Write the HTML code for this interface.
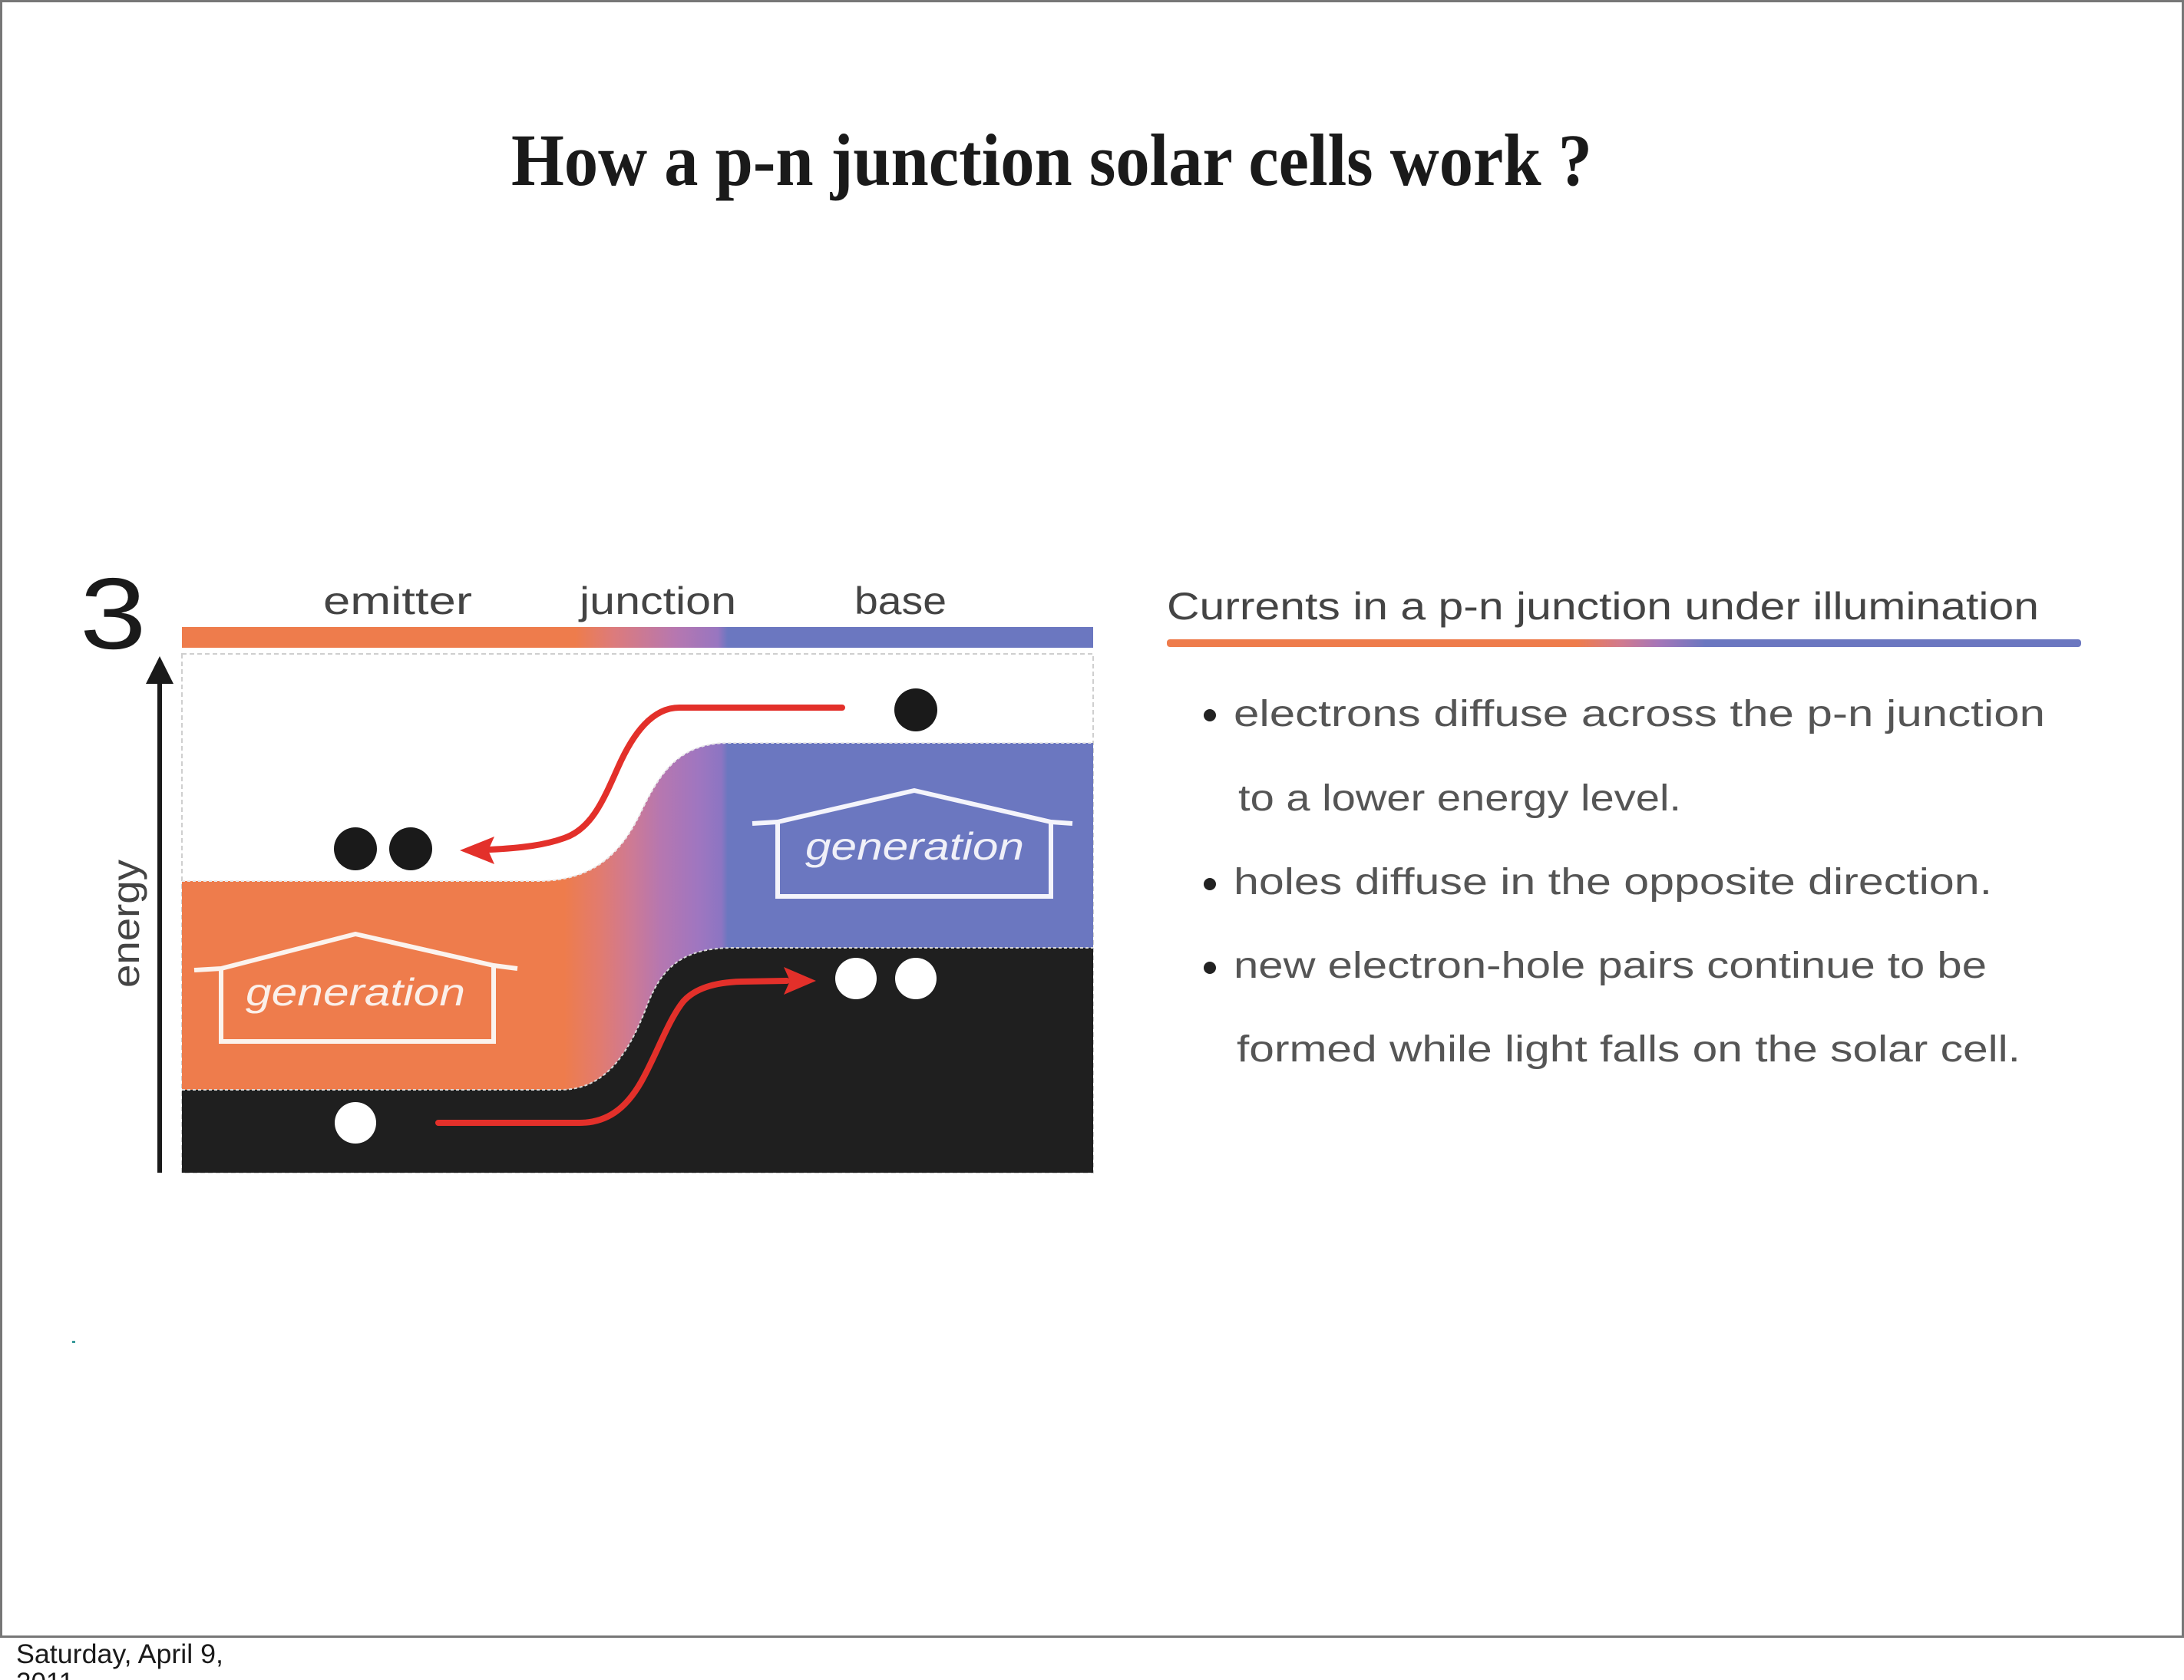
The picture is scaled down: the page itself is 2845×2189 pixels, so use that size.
<!DOCTYPE html>
<html>
<head>
<meta charset="utf-8">
<style>
html,body{margin:0;padding:0;background:#fff;}
body{width:2845px;height:2189px;overflow:hidden;}
svg{display:block;}
text{font-family:"Liberation Sans","DejaVu Sans",sans-serif;}
</style>
</head>
<body>
<svg width="2845" height="2189" viewBox="0 0 2845 2189" xmlns="http://www.w3.org/2000/svg">
  <defs>
    <linearGradient id="band" gradientUnits="userSpaceOnUse" x1="237" y1="0" x2="1424" y2="0">
      <stop offset="0" stop-color="#ee7c4c"/>
      <stop offset="0.4195" stop-color="#ee7c4c"/>
      <stop offset="0.4575" stop-color="#e27b6e"/>
      <stop offset="0.491" stop-color="#cf7a92"/>
      <stop offset="0.525" stop-color="#b677b0"/>
      <stop offset="0.567" stop-color="#9f76c0"/>
      <stop offset="0.592" stop-color="#8c75c2"/>
      <stop offset="0.599" stop-color="#6b77c0"/>
      <stop offset="1" stop-color="#6b77c0"/>
    </linearGradient>
    <linearGradient id="topbar" gradientUnits="userSpaceOnUse" x1="237" y1="0" x2="1424" y2="0">
      <stop offset="0" stop-color="#ee7c4c"/>
      <stop offset="0.432" stop-color="#ee7c4c"/>
      <stop offset="0.474" stop-color="#dc7b7c"/>
      <stop offset="0.542" stop-color="#b677b0"/>
      <stop offset="0.588" stop-color="#9876c0"/>
      <stop offset="0.599" stop-color="#6b77c0"/>
      <stop offset="1" stop-color="#6b77c0"/>
    </linearGradient>
    <linearGradient id="rbar" gradientUnits="userSpaceOnUse" x1="1520" y1="0" x2="2711" y2="0">
      <stop offset="0" stop-color="#ee7c4c"/>
      <stop offset="0.448" stop-color="#ee7c4c"/>
      <stop offset="0.495" stop-color="#d27a8c"/>
      <stop offset="0.537" stop-color="#a676b8"/>
      <stop offset="0.589" stop-color="#6b77c0"/>
      <stop offset="1" stop-color="#6b77c0"/>
    </linearGradient>
  </defs>

  <!-- slide frame -->
  <rect x="0" y="0" width="2845" height="2189" fill="#fff"/>
  <rect x="0" y="0" width="2845" height="3" fill="#777"/>
  <rect x="0" y="0" width="3" height="2134" fill="#777"/>
  <rect x="2842" y="0" width="3" height="2134" fill="#777"/>
  <rect x="0" y="2131" width="2845" height="3" fill="#777"/>

  <!-- title -->
  <text x="666" y="241" font-weight="bold" font-size="96" fill="#1a1a1a" textLength="1408" lengthAdjust="spacingAndGlyphs" style="font-family:'Liberation Serif',serif">How a p-n junction solar cells work ?</text>

  <!-- "3" -->
  <text x="104" y="845" font-size="132" fill="#1a1a1a" transform="translate(104,845) scale(1.18,1) translate(-104,-845)">3</text>

  <!-- top labels -->
  <text x="421" y="800" font-size="50" fill="#444" textLength="194" lengthAdjust="spacingAndGlyphs">emitter</text>
  <text x="755" y="800" font-size="50" fill="#444" textLength="204" lengthAdjust="spacingAndGlyphs">junction</text>
  <text x="1113" y="800" font-size="50" fill="#444" textLength="120" lengthAdjust="spacingAndGlyphs">base</text>

  <!-- top bar -->
  <rect x="237" y="817" width="1187" height="27" fill="url(#topbar)"/>

  <!-- dashed box border -->
  <rect x="237" y="852" width="1187" height="676" fill="#fff" stroke="#cfcfcf" stroke-width="2" stroke-dasharray="6 4"/>

  <!-- energy axis -->
  <line x1="208" y1="885" x2="208" y2="1528" stroke="#1a1a1a" stroke-width="6"/>
  <polygon points="208,855 190,891 226,891" fill="#1a1a1a"/>
  <text font-size="50" fill="#444" textLength="167" lengthAdjust="spacingAndGlyphs" transform="translate(181,1287) rotate(-90)">energy</text>

  <!-- band region -->
  <path d="M237 1148 H700 C775 1148 810 1110 835 1058 C860 1006 885 968 950 968 H1424 V1236 H955 C890 1235 862 1260 843 1310 C820 1370 790 1420 730 1420 H237 Z" fill="url(#band)"/>
  <!-- black valence region -->
  <path d="M237 1420 H730 C790 1420 820 1370 843 1310 C862 1260 890 1235 955 1235 H1424 V1528 H237 Z" fill="#1f1f1f"/>
  <!-- light edges -->
  <path d="M237 1148 H700 C775 1148 810 1110 835 1058 C860 1006 885 968 950 968 H1424" fill="none" stroke="#e8e8e8" stroke-width="2" stroke-dasharray="4 3"/>
  <path d="M237 1420 H730 C790 1420 820 1370 843 1310 C862 1260 890 1235 955 1235 H1424" fill="none" stroke="#d8d8d8" stroke-width="2" stroke-dasharray="4 3"/>

  <!-- left house -->
  <polyline points="253,1264 288,1262 463,1217 643,1258 674,1262" fill="none" stroke="#fbf3ee" stroke-width="6" stroke-linejoin="round"/>
  <polyline points="288,1262 288,1357 643,1357 643,1258" fill="none" stroke="#fbf3ee" stroke-width="6"/>
  <text x="320" y="1310" font-size="50" fill="#fbf0ea" font-style="italic" textLength="286" lengthAdjust="spacingAndGlyphs">generation</text>

  <!-- right house -->
  <polyline points="980,1073 1013,1071 1191,1030 1369,1071 1397,1073" fill="none" stroke="#f4f4fb" stroke-width="6" stroke-linejoin="round"/>
  <polyline points="1013,1071 1013,1168 1369,1168 1369,1071" fill="none" stroke="#f4f4fb" stroke-width="6"/>
  <text x="1049" y="1120" font-size="50" fill="#f0f0f8" font-style="italic" textLength="285" lengthAdjust="spacingAndGlyphs">generation</text>

  <!-- circles -->
  <circle cx="1193" cy="925" r="28" fill="#1a1a1a"/>
  <circle cx="463" cy="1106" r="28" fill="#1a1a1a"/>
  <circle cx="535" cy="1106" r="28" fill="#1a1a1a"/>
  <circle cx="1115" cy="1275" r="27" fill="#fff"/>
  <circle cx="1193" cy="1275" r="27" fill="#fff"/>
  <circle cx="463" cy="1463" r="27" fill="#fff"/>

  <!-- red arrows -->
  <path d="M1097 922 L885 922 C850 922 825 955 805 1000 C785 1045 770 1080 735 1092 C710 1101 680 1105 638 1107" fill="none" stroke="#e3302a" stroke-width="8" stroke-linecap="round"/>
  <polygon points="599,1108 644,1090 636,1108 644,1126" fill="#e3302a"/>
  <path d="M571 1463 L755 1463 C790 1463 815 1445 835 1410 C855 1375 870 1330 890 1305 C905 1288 930 1280 965 1279 L1025 1278" fill="none" stroke="#e3302a" stroke-width="8" stroke-linecap="round"/>
  <polygon points="1063,1278 1021,1260 1029,1278 1021,1296" fill="#e3302a"/>

  <!-- right side text -->
  <text x="1520" y="807" font-size="50" fill="#444" textLength="1136" lengthAdjust="spacingAndGlyphs">Currents in a p-n junction under illumination</text>
  <rect x="1520" y="833" width="1191" height="10" rx="4" fill="url(#rbar)"/>

  <circle cx="1576" cy="932" r="8" fill="#222"/>
  <text x="1607" y="946" font-size="48" fill="#555" textLength="1057" lengthAdjust="spacingAndGlyphs">electrons diffuse across the p-n junction</text>
  <text x="1613" y="1056" font-size="48" fill="#555" textLength="577" lengthAdjust="spacingAndGlyphs">to a lower energy level.</text>
  <circle cx="1576" cy="1152" r="8" fill="#222"/>
  <text x="1607" y="1165" font-size="48" fill="#555" textLength="988" lengthAdjust="spacingAndGlyphs">holes diffuse in the opposite direction.</text>
  <circle cx="1576" cy="1261" r="8" fill="#222"/>
  <text x="1607" y="1274" font-size="48" fill="#555" textLength="981" lengthAdjust="spacingAndGlyphs">new electron-hole pairs continue to be</text>
  <text x="1611" y="1383" font-size="48" fill="#555" textLength="1021" lengthAdjust="spacingAndGlyphs">formed while light falls on the solar cell.</text>

  <!-- tiny mark -->
  <rect x="94" y="1747" width="4" height="3" fill="#3a9a9a"/>

  <!-- date footer -->
  <text x="21" y="2167" font-size="35" fill="#1a1a1a" textLength="270" lengthAdjust="spacingAndGlyphs">Saturday, April 9,</text>
  <text x="21" y="2204" font-size="35" fill="#1a1a1a">2011</text>
</svg>
</body>
</html>
